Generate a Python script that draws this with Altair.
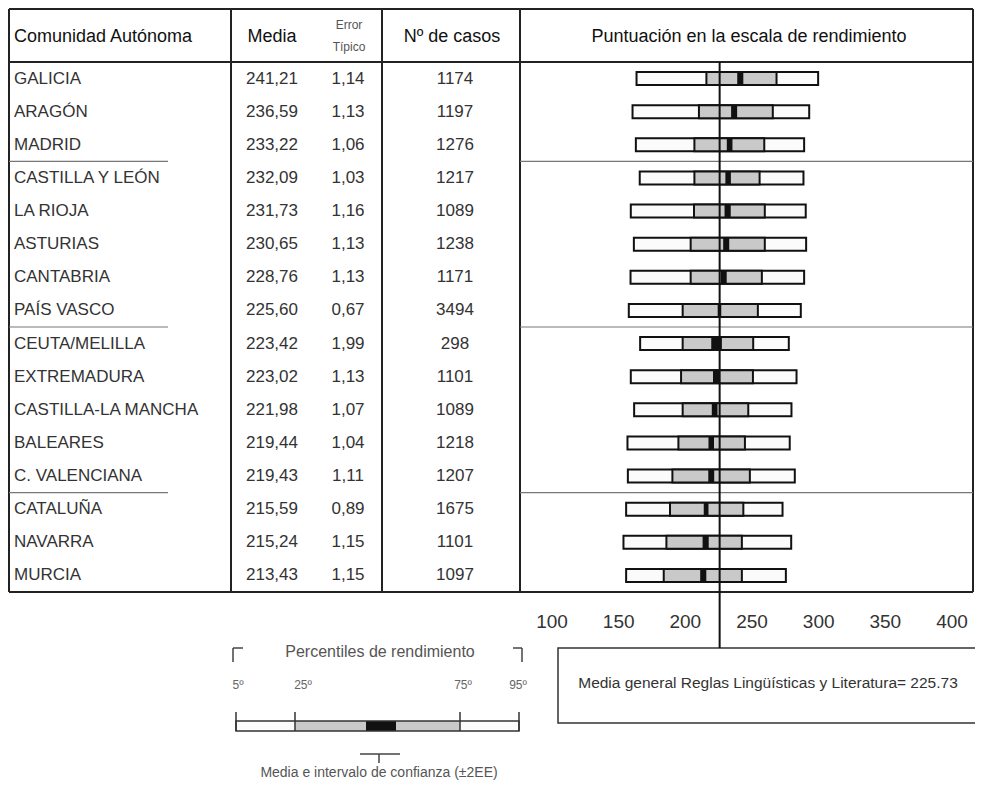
import altair as alt
import pandas as pd

# ---------------- data ----------------
regions = ["GALICIA", "ARAGÓN", "MADRID", "CASTILLA Y LEÓN", "LA RIOJA", "ASTURIAS",
           "CANTABRIA", "PAÍS VASCO", "CEUTA/MELILLA", "EXTREMADURA", "CASTILLA-LA MANCHA",
           "BALEARES", "C. VALENCIANA", "CATALUÑA", "NAVARRA", "MURCIA"]
media = [241.21, 236.59, 233.22, 232.09, 231.73, 230.65, 228.76, 225.60,
         223.42, 223.02, 221.98, 219.44, 219.43, 215.59, 215.24, 213.43]
error = [1.14, 1.13, 1.06, 1.03, 1.16, 1.13, 1.13, 0.67,
         1.99, 1.13, 1.07, 1.04, 1.11, 0.89, 1.15, 1.15]
casos = [1174, 1197, 1276, 1217, 1089, 1238, 1171, 3494,
         298, 1101, 1089, 1218, 1207, 1675, 1101, 1097]
p5 = [163.4, 160.4, 162.9, 165.8, 159.1, 161.4, 158.9, 157.6,
      166.1, 159.1, 161.6, 156.6, 156.9, 155.6, 153.6, 155.6]
p25 = [215.8, 210.2, 206.8, 206.8, 206.5, 204.0, 204.0, 198.0,
       198.0, 196.8, 198.0, 194.8, 190.3, 188.5, 185.8, 183.8]
p75 = [268.4, 265.6, 259.2, 255.7, 259.6, 259.6, 257.4, 254.4,
       250.9, 250.7, 247.2, 244.7, 248.4, 243.5, 242.4, 242.4]
p95 = [299.6, 292.9, 289.1, 288.6, 290.3, 290.6, 289.1, 286.6,
       277.6, 283.4, 279.6, 278.3, 282.1, 272.9, 279.4, 275.4]
ticks = [100, 150, 200, 250, 300, 350, 400]
media_general = 225.73
group_breaks = [3, 8, 13]

# ---------------- frames ----------------
df = pd.DataFrame({"region": regions, "media": media, "error": error, "casos": casos,
                   "p5": p5, "p25": p25, "p75": p75, "p95": p95})
df["lo"] = df["media"] - 2 * df["error"]
df["hi"] = df["media"] + 2 * df["error"]
df["media_t"] = df["media"].map(lambda v: f"{v:.2f}".replace(".", ","))
df["error_t"] = df["error"].map(lambda v: f"{v:.2f}".replace(".", ","))
df["casos_t"] = df["casos"].astype(str)

W, H = 967, 775
F = "Liberation Sans"
TOP, BOT = 54, 584
ROW = (BOT - TOP) / len(regions)

XS = alt.Scale(domain=[100, 400], range=[544, 944])
YS = alt.Scale(type="band", domain=regions, range=[TOP, BOT], paddingInner=0, paddingOuter=0)
Y = alt.Y("region:N", scale=YS, axis=None)

base = alt.Chart(df)
one = pd.DataFrame({"a": [0]})


def segs(rows, color="#222", width=2):
    d = pd.DataFrame(rows, columns=["x", "y", "x2", "y2"])
    return alt.Chart(d).mark_rule(color=color, strokeWidth=width).encode(
        x=alt.X("x:Q", scale=None, axis=None), y=alt.Y("y:Q", scale=None, axis=None),
        x2="x2:Q", y2="y2:Q")


def rects(rows, fill, stroke=None, width=0):
    d = pd.DataFrame(rows, columns=["x", "y", "x2", "y2"])
    kw = dict(fill=fill)
    if stroke:
        kw.update(stroke=stroke, strokeWidth=width)
    else:
        kw.update(strokeWidth=0)
    return alt.Chart(d).mark_rect(**kw).encode(
        x=alt.X("x:Q", scale=None, axis=None), y=alt.Y("y:Q", scale=None, axis=None),
        x2="x2:Q", y2="y2:Q")


def label(txt, x, y, size, color="#333", align="center"):
    return alt.Chart(one).mark_text(text=txt, font=F, fontSize=size, color=color,
                                    align=align, baseline="middle").encode(
        x=alt.value(x), y=alt.value(y))


layers = []

# ---- bars ----
layers.append(base.mark_bar(size=13, fill="#fbfbfb", stroke="#111", strokeWidth=2).encode(
    x=alt.X("p5:Q", scale=XS, axis=None), x2="p95:Q", y=Y))
layers.append(base.mark_bar(size=13, fill="#c9c9c9", stroke="#111", strokeWidth=2).encode(
    x=alt.X("p25:Q", scale=XS, axis=None), x2="p75:Q", y=Y))
layers.append(base.mark_bar(size=13, fill="#111", strokeWidth=0).encode(
    x=alt.X("lo:Q", scale=XS, axis=None), x2="hi:Q", y=Y))

# ---- table texts ----
layers.append(base.mark_text(align="left", baseline="middle", font=F, fontSize=17, color="#333").encode(
    x=alt.value(6), y=Y, text="region:N"))
layers.append(base.mark_text(align="center", baseline="middle", font=F, fontSize=17, color="#333").encode(
    x=alt.value(264), y=Y, text="media_t:N"))
layers.append(base.mark_text(align="center", baseline="middle", font=F, fontSize=17, color="#333").encode(
    x=alt.value(340), y=Y, text="error_t:N"))
layers.append(base.mark_text(align="center", baseline="middle", font=F, fontSize=17, color="#333").encode(
    x=alt.value(447), y=Y, text="casos_t:N"))

# ---- headers ----
layers.append(label("Comunidad Autónoma", 6, 29, 18, "#111", "left"))
layers.append(label("Media", 264, 29, 18, "#111"))
layers.append(label("Error", 341, 17, 12, "#555"))
layers.append(label("Típico", 341, 39, 12, "#555"))
layers.append(label("Nº de casos", 444, 29, 18, "#111"))
layers.append(label("Puntuación en la escala de rendimiento", 741, 29, 18, "#111"))

# ---- table grid ----
layers.append(segs([
    [1, 1, 965, 1], [1, TOP, 965, TOP], [1, BOT, 965, BOT],
    [1, 1, 1, BOT], [223, 1, 223, BOT], [374, 1, 374, BOT],
    [512, 1, 512, BOT], [965, 1, 965, BOT],
], "#222", 2))
layers.append(segs(
    [[1, TOP + g * ROW, 160, TOP + g * ROW] for g in group_breaks] +
    [[512, TOP + g * ROW, 965, TOP + g * ROW] for g in group_breaks], "#777", 1.2))

# ---- axis tick labels ----
layers.append(alt.Chart(pd.DataFrame({"t": ticks})).mark_text(
    font=F, fontSize=19, color="#333", baseline="middle").encode(
    x=alt.X("t:Q", scale=XS, axis=None), y=alt.value(614), text="t:Q"))

# ---- general mean box ----
layers.append(rects([[550, 640, 985, 715]], "#ffffff", "#333", 1.5))
layers.append(label("Media general Reglas Lingüísticas y Literatura= 225.73", 760, 675, 15.5, "#333"))

# ---- general mean line ----
layers.append(alt.Chart(pd.DataFrame({"m": [media_general]})).mark_rule(color="#111", strokeWidth=2).encode(
    x=alt.X("m:Q", scale=XS, axis=None), y=alt.value(TOP), y2=alt.value(640)))

# ---- legend ----
layers.append(segs([[225, 640, 235, 640], [225, 640, 225, 654],
                    [505, 640, 514, 640], [514, 640, 514, 654]], "#444", 1.5))
layers.append(label("Percentiles de rendimiento", 372, 644, 16, "#555"))
layers.append(label("5º", 230, 677, 12, "#666"))
layers.append(label("25º", 295, 677, 12, "#666"))
layers.append(label("75º", 455, 677, 12, "#666"))
layers.append(label("95º", 510, 677, 12, "#666"))
layers.append(rects([[228, 713, 287, 723], [452, 713, 511, 723]], "#fbfbfb"))
layers.append(rects([[287, 713, 358, 723], [388, 713, 452, 723]], "#c9c9c9"))
layers.append(rects([[358, 713, 388, 723]], "#111"))
layers.append(rects([[228, 713, 511, 723]], "transparent", "#333", 1.5))
layers.append(segs([[228, 704, 228, 723], [287, 704, 287, 723],
                    [452, 704, 452, 723], [511, 704, 511, 723]], "#333", 1.5))
layers.append(segs([[352, 746, 392, 746], [371, 746, 371, 755]], "#444", 1.5))
layers.append(label("Media e intervalo de confianza (±2EE)", 371, 765, 14, "#555"))

chart = alt.layer(*layers).resolve_scale(x="independent", y="independent").properties(
    width=W, height=H, padding=0, autosize=alt.AutoSizeParams(type="none")
).configure_view(stroke=None)

chart.save("out.html", embed_options={"renderer": "svg", "actions": False})
